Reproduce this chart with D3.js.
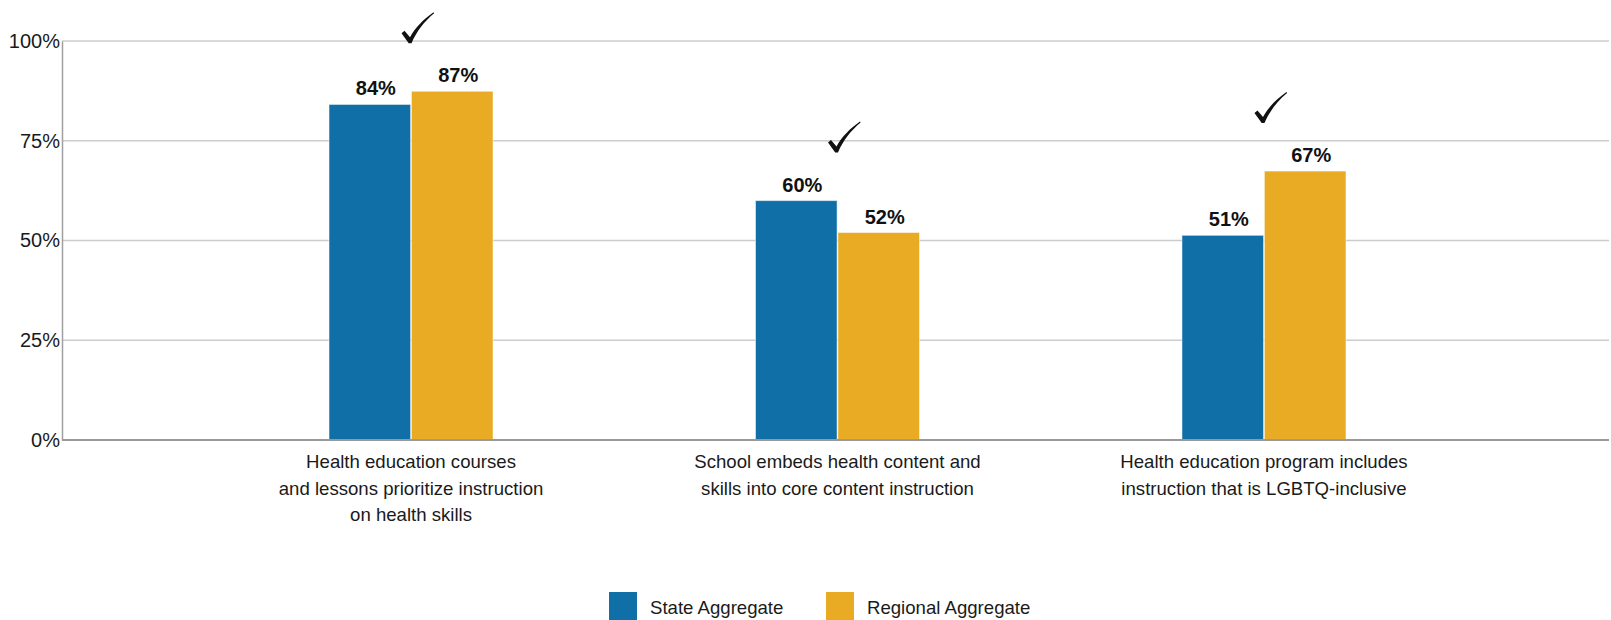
<!doctype html>
<html>
<body>
<style type="text/css">
    html,body{
        margin: 0;
        overflow: hidden;
        background: #fff;
    }
    text {
        font-family: "Liberation Sans", Arial, sans-serif;
    }
</style>
<script src="https://d3js.org/d3.v7.min.js" charset="utf-8"></script>
<script type="text/javascript">
var categories = [
    ["Health education courses", "and lessons prioritize instruction", "on health skills"],
    ["School embeds health content and", "skills into core content instruction"],
    ["Health education program includes", "instruction that is LGBTQ-inclusive"]
];
var seriesNames = ["State Aggregate", "Regional Aggregate"];
var stateValues = [84.1, 60, 51.3];
var regionalValues = [87.4, 52, 67.4];
var checked = [true, true, true];
var yTicks = [0, 25, 50, 75, 100];
var colors = ["#116fa8", "#e9ab23"];

(function(){
    var w = 1611,
        h = 620,
        left = 62,
        right = 1609,
        top = 41,
        bottom = 440;

    var svg = d3.select("body").append("svg")
        .attr("width", w)
        .attr("height", h);

    var ids = categories.map(function(d, i){ return i; });

    var x0 = d3.scalePoint()
        .domain(ids)
        .range([66, right])
        .padding(0.809);

    var x1 = d3.scaleBand()
        .domain([0, 1])
        .range([-82, 82])
        .paddingInner(0.01);

    var y = d3.scaleLinear()
        .domain([0, 100])
        .range([bottom, top]);

    // grid
    svg.append("g").selectAll("line")
        .data(yTicks.filter(function(t){ return t > 0; }))
        .enter().append("line")
        .attr("x1", left).attr("x2", right)
        .attr("y1", function(d){ return y(d); })
        .attr("y2", function(d){ return y(d); })
        .attr("stroke", "#cccccc")
        .attr("stroke-width", 1.5);

    // y axis
    var yAxis = svg.append("g")
        .attr("transform", "translate(" + left + ",0)")
        .call(d3.axisLeft(y).tickValues(yTicks).tickSize(0).tickPadding(2)
            .tickFormat(function(d){ return d + "%"; }));
    yAxis.select(".domain").attr("stroke", "#a0a0a0").attr("stroke-width", 1.5);
    yAxis.selectAll("text")
        .attr("font-size", "20px")
        .attr("fill", "#1a1a1a")
        .attr("font-family", "Liberation Sans, Arial, sans-serif");

    // bars
    var rows = ids.map(function(i){
        return [stateValues[i], regionalValues[i]];
    });

    var group = svg.append("g").selectAll("g")
        .data(rows)
        .enter().append("g")
        .attr("transform", function(d, i){ return "translate(" + x0(i) + ",0)"; });

    group.selectAll("rect")
        .data(function(d){ return d; })
        .enter().append("rect")
        .attr("x", function(d, j){ return x1(j); })
        .attr("y", function(d){ return y(d); })
        .attr("width", x1.bandwidth())
        .attr("height", function(d){ return y(0) - y(d); })
        .attr("fill", function(d, j){ return colors[j]; })
        .attr("stroke", "#ffffff")
        .attr("stroke-opacity", 0.5)
        .attr("stroke-width", 1);

    group.selectAll("text.val")
        .data(function(d){ return d; })
        .enter().append("text")
        .attr("class", "val")
        .attr("x", function(d, j){ return x1(j) + x1.bandwidth() / 2 + 6; })
        .attr("y", function(d){ return y(d) - 9; })
        .attr("text-anchor", "middle")
        .attr("font-size", "20px")
        .attr("font-weight", "bold")
        .attr("fill", "#111")
        .text(function(d){ return Math.round(d) + "%"; });

    // check marks (hand drawn style tick)
    var checkPath = "M0,21 L3,18.5 L8.5,25 C14,15 22,7 32,0 L32.6,1 C23,9 15,19 10,31 L7.2,31 Z";
    group.filter(function(d, i){ return checked[i]; })
        .append("path")
        .attr("d", checkPath)
        .attr("transform", function(d){ return "translate(-9.5," + (y(d3.max(d)) - 48 - 31) + ")"; })
        .attr("fill", "#111");

    // x axis line
    svg.append("line")
        .attr("x1", left).attr("x2", right)
        .attr("y1", bottom).attr("y2", bottom)
        .attr("stroke", "#999999")
        .attr("stroke-width", 2);

    // category labels
    svg.append("g").selectAll("text")
        .data(categories)
        .enter().append("text")
        .attr("text-anchor", "middle")
        .attr("font-size", "18.6px")
        .attr("fill", "#1a1a1a")
        .attr("transform", function(d, i){ return "translate(" + x0(i) + "," + (bottom + 28) + ")"; })
        .selectAll("tspan")
        .data(function(d){ return d; })
        .enter().append("tspan")
        .attr("x", 0)
        .attr("y", function(d, k){ return k * 26.5; })
        .text(function(d){ return d; });

    // legend
    var legendX = [609, 826];
    var legend = svg.append("g").selectAll("g")
        .data(seriesNames)
        .enter().append("g")
        .attr("transform", function(d, i){ return "translate(" + legendX[i] + ",592)"; });
    legend.append("rect")
        .attr("width", 28).attr("height", 28)
        .attr("fill", function(d, i){ return colors[i]; });
    legend.append("text")
        .attr("x", 41)
        .attr("y", 22)
        .attr("font-size", "18.6px")
        .attr("fill", "#1a1a1a")
        .text(function(d){ return d; });
})();
</script>
</body>
</html>
